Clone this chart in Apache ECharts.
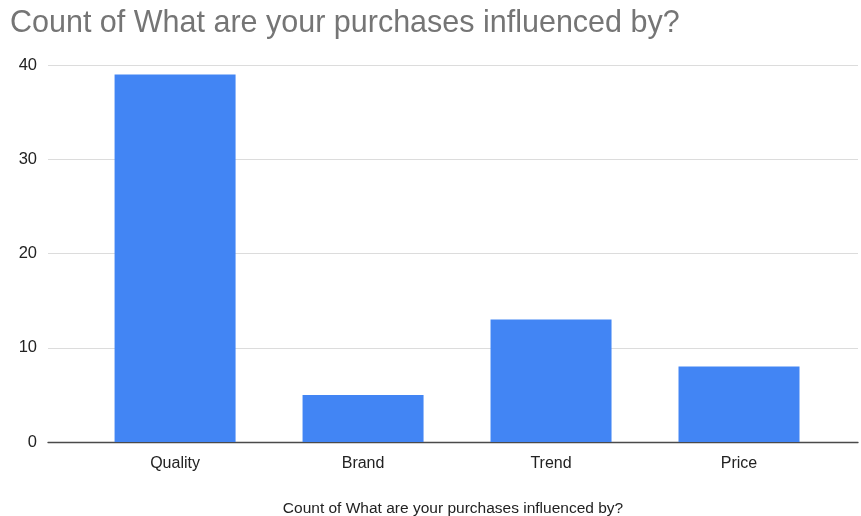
<!DOCTYPE html>
<html>
<head>
<meta charset="utf-8">
<style>
  html, body { margin: 0; padding: 0; background: #ffffff; overflow: hidden; }
  #chart { width: 861px; height: 516px; }
</style>
<script src="https://cdn.jsdelivr.net/npm/echarts@6/dist/echarts.min.js"></script>
</head>
<body>
<div id="chart"></div>
<script>
// Survey answers and their counts
const categories = ['Quality', 'Brand', 'Trend', 'Price'];
const counts = [39, 5, 13, 8];
const yTicks = [0, 10, 20, 30, 40];

const titleText = 'Count of What are your purchases influenced by?';
const axisTitle = 'Count of What are your purchases influenced by?';

const chart = echarts.init(document.getElementById('chart'), null, { renderer: 'canvas' });

// Bars sit at integer positions on a numeric x axis so the plot frame can
// extend a little past the outer bars, the way the gridlines do here.
const barData = counts.map((v, i) => [i, v]);
const barPositions = categories.map((_, i) => i);

chart.setOption({
  animation: false,
  backgroundColor: '#ffffff',
  textStyle: { fontFamily: 'Liberation Sans, Arial, sans-serif' },
  title: {
    text: titleText,
    left: 5,
    top: 3,
    textStyle: {
      fontFamily: 'Liberation Sans, Arial, sans-serif',
      fontSize: 30.5,
      fontWeight: 'normal',
      color: '#757575'
    }
  },
  grid: {
    left: 48, right: 3, top: 65, bottom: 74,
    containLabel: false,
    outerBoundsMode: 'none'
  },
  xAxis: {
    type: 'value',
    min: -0.676,
    max: 3.633,
    name: axisTitle,
    nameLocation: 'middle',
    nameGap: 59,
    nameTextStyle: { fontSize: 15.5, color: '#222222' },
    axisLine: { show: true, lineStyle: { color: '#4a4a4a', width: 1.3 } },
    axisTick: { show: false },
    splitLine: { show: false },
    axisLabel: {
      fontSize: 16,
      color: '#222222',
      margin: 14,
      customValues: barPositions,
      formatter: (v) => categories[Math.round(v)] ?? ''
    }
  },
  yAxis: {
    type: 'value',
    min: yTicks[0],
    max: yTicks[yTicks.length - 1],
    interval: 10,
    axisLine: { show: false },
    axisTick: { show: false },
    splitLine: { lineStyle: { color: '#dcdcdc', width: 1 } },
    axisLabel: { fontSize: 16.5, color: '#222222', margin: 11 }
  },
  series: [{
    type: 'bar',
    data: barData,
    barWidth: 121,
    itemStyle: { color: '#4285F4' }
  }]
});
</script>
</body>
</html>
